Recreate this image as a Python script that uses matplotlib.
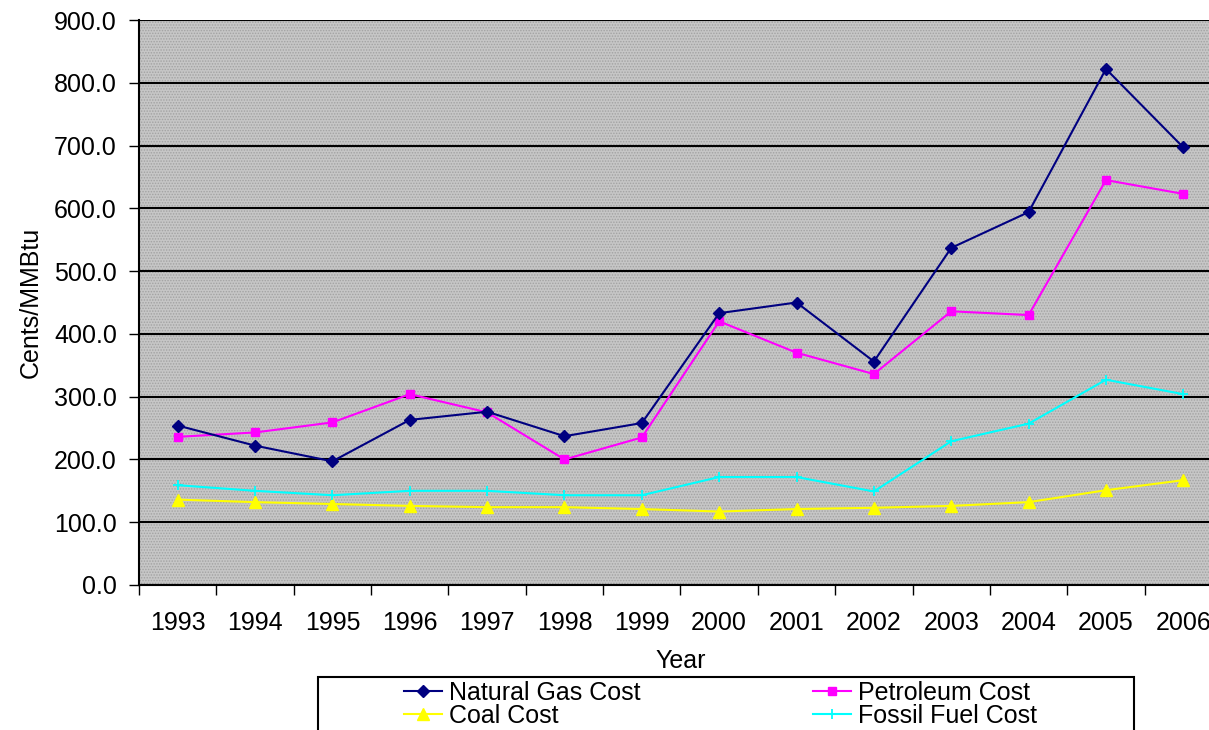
import numpy as np
import matplotlib
matplotlib.use("Agg")
import matplotlib.pyplot as plt
from matplotlib.patches import Rectangle

years = [str(y) for y in range(1993, 2007)]
natural_gas = [254, 222, 197, 263, 276, 237, 258, 433, 450, 356, 537, 594, 822, 697]
petroleum = [236, 243, 259, 304, 275, 200, 235, 420, 370, 336, 436, 430, 645, 623]
coal = [136, 132, 129, 126, 124, 124, 121, 117, 121, 123, 126, 132, 151, 167]
fossil = [159, 150, 143, 150, 150, 143, 143, 172, 172, 149, 229, 257, 327, 304]

plt.rcParams['font.family'] = ['Liberation Sans', 'DejaVu Sans']
plt.rcParams['hatch.linewidth'] = 0.7

W, H = 1209, 730
fig = plt.figure(figsize=(W / 100, H / 100), dpi=100)
# plot area in pixels: x 139..1222 (cut at right edge), y 20..585
ax = fig.add_axes([139 / W, 1 - 585 / H, (1222 - 139) / W, (585 - 20) / H])

# dithered gray background
ax.set_facecolor('#c6c6c6')
ax.add_patch(Rectangle((0, 0), 1, 1, transform=ax.transAxes, facecolor='none',
                       edgecolor='#a2a2a2', lw=0, hatch='......', zorder=0))

x = np.arange(len(years))
l1, = ax.plot(x, natural_gas, color='#000080', marker='D', ms=6, lw=1.5, zorder=4)
l2, = ax.plot(x, petroleum, color='#ff00ff', marker='s', ms=6, lw=1.5, zorder=3)
l3, = ax.plot(x, coal, color='#ffff00', marker='^', ms=8, lw=1.5, zorder=3)
l4, = ax.plot(x, fossil, color='#00ffff', marker='+', ms=7, mew=1.3, lw=1.5, zorder=3)

ax.set_xlim(-0.5, len(years) - 0.5)
ax.set_ylim(0, 900)
ax.set_yticks(np.arange(0, 901, 100))
ax.set_yticklabels(['%.1f' % v for v in np.arange(0, 901, 100)])
ax.yaxis.grid(True, color='black', lw=1.5)
ax.set_axisbelow(True)

ax.set_xticks(np.arange(-0.5, len(years), 1))
ax.set_xticklabels([])
ax.set_xticks(x, minor=True)
ax.set_xticklabels(years, minor=True)
ax.tick_params(axis='x', which='major', length=7, width=1, direction='out')
ax.tick_params(axis='x', which='minor', length=0, pad=19, labelsize=18)
ax.tick_params(axis='y', length=7, width=1, direction='out', pad=9, labelsize=18)

for s in ['top', 'right']:
    ax.spines[s].set_visible(False)
for s in ['left', 'bottom']:
    ax.spines[s].set_linewidth(1.5)

ax.set_xlabel('Year', fontsize=18, labelpad=10)
ax.set_ylabel('Cents/MMBtu', fontsize=18, labelpad=8)

# legend box (bottom is cut by the figure edge)
fig.patches.append(Rectangle((318 / W, -0.05), (1134 - 318) / W, 0.05 + (730 - 677) / H,
                             transform=fig.transFigure, facecolor='white',
                             edgecolor='black', lw=1.5))
kw = dict(loc='upper left', frameon=False, fontsize=18, borderpad=0, borderaxespad=0,
          handlelength=1.5, handletextpad=0.3, labelspacing=-0.05)
fig.legend([l1, l3], ['Natural Gas Cost', 'Coal Cost'],
           bbox_to_anchor=(404 / W, 1 - 681 / H), **kw)
fig.legend([l2, l4], ['Petroleum Cost', 'Fossil Fuel Cost'],
           bbox_to_anchor=(813 / W, 1 - 681 / H), **kw)

fig.savefig('out.png', dpi=100)
